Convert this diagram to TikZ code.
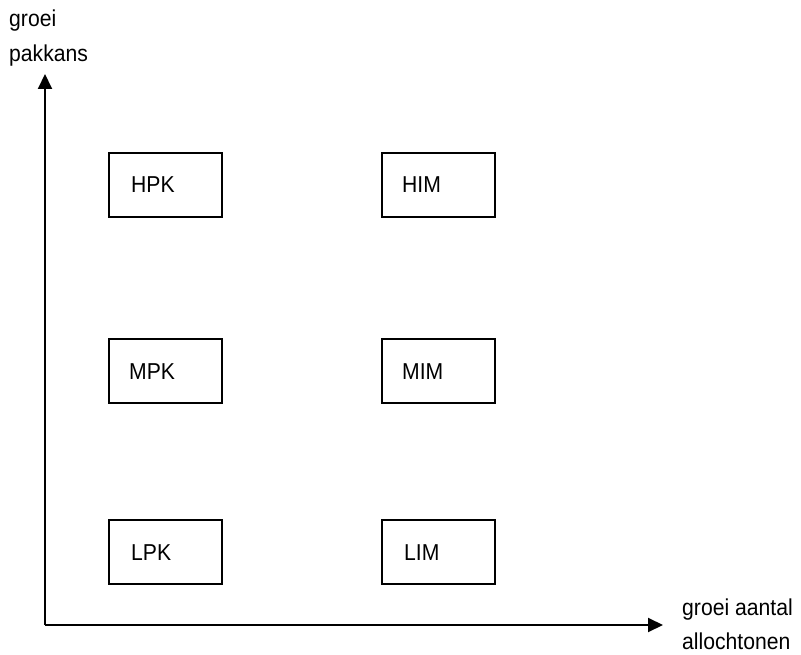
\documentclass[tikz,border=0pt]{standalone}
\usepackage{fontspec}
\setmainfont{Liberation Sans}[FakeStretch=0.92]
\usetikzlibrary{arrows.meta}
\begin{document}
\begin{tikzpicture}[x=1pt,y=-1pt,
  box/.style={draw=black,line width=2pt,minimum width=113pt,minimum height=64pt,inner sep=0pt},
  lbl/.style={anchor=base west,inner sep=0pt,font=\fontsize{23}{27}\selectfont},
  axis/.style={line width=2pt,-{Triangle[length=15pt,width=14pt]}}]
\useasboundingbox (0,0) rectangle (801,655);
% boxes
\node[box] (hpk) at (165.5,185) {};
\node[box] (him) at (438.5,185) {};
\node[box] (mpk) at (165.5,371) {};
\node[box] (mim) at (438.5,371) {};
\node[box] (lpk) at (165.5,552) {};
\node[box] (lim) at (438.5,552) {};
\node[lbl] (thpk) at ([xshift=23pt,yshift=-8pt]hpk.west) {HPK};
\node[lbl] (thim) at ([xshift=21pt,yshift=-8pt]him.west) {HIM};
\node[lbl] (tmpk) at ([xshift=21pt,yshift=-8pt]mpk.west) {MPK};
\node[lbl] (tmim) at ([xshift=21pt,yshift=-8pt]mim.west) {MIM};
\node[lbl] (tlpk) at ([xshift=23pt,yshift=-8pt]lpk.west) {LPK};
\node[lbl] (tlim) at ([xshift=23pt,yshift=-8pt]lim.west) {LIM};
% axes
\coordinate (o) at (45,625);
\coordinate (ytip) at (45,74);
\coordinate (xtip) at (663,625);
\draw[axis] (o) -- (ytip);
\draw[axis] (o) -- (xtip);
% axis labels
\node[lbl] (yl1) at (9,27) {groei};
\node[lbl] (yl2) at (9,62) {pakkans};
\node[lbl] (xl1) at (682,615) {groei aantal};
\node[lbl] (xl2) at (682,649) {allochtonen};
\end{tikzpicture}
\end{document}
